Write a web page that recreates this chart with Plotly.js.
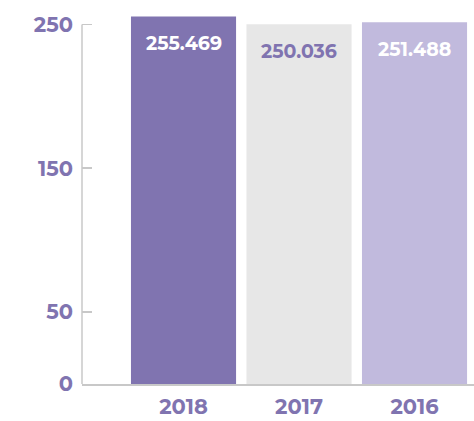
<!DOCTYPE html>
<html><head><meta charset="utf-8">
<script src="https://cdn.plot.ly/plotly-3.0.1.min.js"></script>
<style>html,body{margin:0;padding:0;background:#fff}#chart{width:474px;height:421px}</style>
</head><body><div id="chart"></div>
<script>
const years = ['2018', '2017', '2016'];
const values = [255.469, 250.036, 251.488];
const barColors = ['#8074b0', '#e7e7e7', '#c1badd'];
const labelColors = ['#ffffff', '#8074b0', '#ffffff'];
const yTicks = [0, 50, 150, 250];

const purple = '#8074b0';
const font = 'Montserrat, "Open Sans", sans-serif';

const trace = {
  type: 'bar',
  x: years,
  y: values,
  marker: {color: barColors},
  hoverinfo: 'none'
};

const annotations = years.map((yr, i) => ({
  x: i, y: values[i], xref: 'x', yref: 'y',
  text: values[i].toFixed(3),
  showarrow: false, yanchor: 'middle', yshift: -27,
  font: {family: font, size: 19, color: labelColors[i], weight: 700}
}));

const layout = {
  width: 474, height: 421,
  margin: {l: 82, r: 0, t: 10, b: 37},
  paper_bgcolor: '#fff', plot_bgcolor: '#fff',
  showlegend: false,
  bargap: 0.09,
  xaxis: {
    type: 'category',
    range: [-0.879, 2.515],
    showline: true, linecolor: '#c8c8c8', linewidth: 1.5,
    ticks: '', showgrid: false, zeroline: false,
    tickfont: {family: font, size: 21, color: purple, weight: 700},
    ticklabelstandoff: 3
  },
  yaxis: {
    range: [0, 260],
    tickvals: yTicks,
    ticktext: yTicks.map(String),
    ticks: 'inside', ticklen: 10, tickcolor: '#c8c8c8', tickwidth: 1.5,
    showline: false, showgrid: false, zeroline: false,
    tickfont: {family: font, size: 21, color: purple, weight: 700},
    ticklabelstandoff: 8
  },
  shapes: [{
    type: 'line', xref: 'paper', yref: 'y',
    x0: 0, x1: 0, y0: 0, y1: 250,
    line: {color: '#c8c8c8', width: 1.5}
  }],
  annotations: annotations
};

Plotly.newPlot('chart', [trace], layout, {displayModeBar: false, staticPlot: true});
</script></body></html>
